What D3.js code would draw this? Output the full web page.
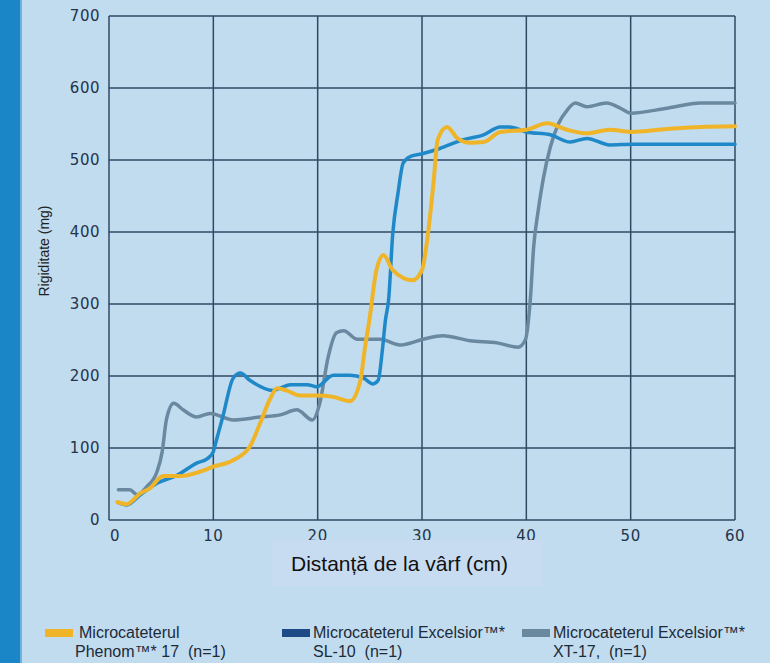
<!DOCTYPE html>
<html>
<head>
<meta charset="utf-8">
<script src="https://cdn.jsdelivr.net/npm/d3@7"></script>
<style>
  body { margin: 0; background: #c0dcee; }
  #chart { width: 770px; height: 663px; }
</style>
</head>
<body>
<div id="chart"></div>
<script>
// Phenom 17 (yellow)
let phenomX = [0.8, 1.7, 3.0, 3.9, 5.2, 6.8, 8.7, 10.0, 11.9, 13.5, 14.5, 15.4, 16.1, 17.0, 18.3, 19.9, 21.5, 23.1, 24.1, 24.5, 25.0, 25.6, 26.3, 27.2, 29.1, 30.0, 30.5, 31.1, 31.5, 32.4, 33.4, 34.6, 35.9, 37.5, 40.0, 42.0, 43.9, 45.8, 48.0, 50.0, 53.5, 56.7, 60]
let phenomY = [25, 22, 37, 44, 61, 61, 67, 74, 83, 102, 135, 167, 183, 180, 173, 173, 171, 165, 194, 236, 282, 345, 368, 347, 333, 347, 389, 468, 528, 546, 530, 524, 525, 539, 542, 551, 542, 537, 542, 539, 543, 546, 547]

// Excelsior SL-10 (blue)
let sl10X = [0.9, 1.7, 3.0, 4.6, 6.5, 8.4, 9.5, 10.0, 10.3, 10.9, 11.9, 12.6, 13.5, 15.7, 17.4, 19.0, 19.9, 21.5, 23.1, 24.4, 25.3, 25.8, 26.2, 26.5, 26.8, 27.2, 27.7, 28.2, 28.9, 30.1, 31.7, 33.9, 35.9, 37.5, 38.4, 40.0, 42.3, 44.2, 45.8, 48.0, 50.2, 56.7, 60]
let sl10Y = [24, 21, 35, 51, 62, 79, 86, 95, 111, 143, 197, 204, 194, 180, 188, 188, 185, 201, 201, 197, 189, 194, 236, 278, 306, 398, 454, 496, 505, 509, 516, 528, 535, 546, 546, 539, 535, 525, 530, 521, 522, 522, 522]

// Excelsior XT-17 (grey)
let xt17X = [0.9, 2.0, 2.7, 3.6, 4.6, 5.1, 5.5, 6.2, 7.1, 8.4, 9.7, 11.9, 14.5, 16.4, 18.0, 19.5, 20.2, 21.0, 21.8, 22.5, 23.8, 26.0, 27.9, 30.1, 32.0, 34.6, 37.2, 39.2, 39.9, 40.4, 40.7, 41.1, 41.6, 42.3, 43.1, 43.9, 44.7, 45.8, 47.7, 49.0, 50.0, 53.5, 56.7, 60]
let xt17Y = [42, 42, 35, 46, 67, 95, 139, 162, 153, 143, 148, 139, 143, 146, 153, 139, 162, 226, 260, 263, 251, 251, 243, 251, 256, 249, 246, 240, 250, 310, 379, 426, 472, 518, 551, 569, 579, 574, 579, 572, 565, 572, 579, 579]

let xTicks = [0, 10, 20, 30, 40, 50, 60]
let yTicks = [0, 100, 200, 300, 400, 500, 600, 700]

let legendLines = [
    ['Microcateterul', 'Phenom\u2122* 17  (n=1)'],
    ['Microcateterul Excelsior\u2122*', 'SL-10  (n=1)'],
    ['Microcateterul Excelsior\u2122*', 'XT-17,  (n=1)']
]

let series = [
    {x: xt17X, y: xt17Y, color: '#6a89a1', width: 3.5},
    {x: sl10X, y: sl10Y, color: '#1f88c8', width: 3.5},
    {x: phenomX, y: phenomY, color: '#f0b428', width: 4}
]

let legendColors = ['#f0b428', '#1f4a86', '#6a89a1']

let svg = d3.select('#chart').append('svg')
    .attr('width', 770)
    .attr('height', 663)

// background + left strip
svg.append('rect').attr('width', 770).attr('height', 663).attr('fill', '#c0dcee')
svg.append('rect').attr('width', 20).attr('height', 663).attr('fill', '#1a86c8')
svg.append('rect').attr('x', 20).attr('width', 2).attr('height', 663).attr('fill', '#6fb2de')

let x = d3.scaleLinear().domain([0, 60]).range([109, 735])
let y = d3.scaleLinear().domain([0, 700]).range([520, 16])

let grid = svg.append('g')

grid.selectAll('vline')
    .data(xTicks)
    .enter()
    .append('line')
    .attr('x1', d => x(d))
    .attr('x2', d => x(d))
    .attr('y1', y(0))
    .attr('y2', y(700))
    .attr('stroke', '#2f4a63')
    .attr('stroke-width', 1.5)

grid.selectAll('hline')
    .data(yTicks)
    .enter()
    .append('line')
    .attr('x1', x(0))
    .attr('x2', x(60))
    .attr('y1', d => y(d))
    .attr('y2', d => y(d))
    .attr('stroke', '#2f4a63')
    .attr('stroke-width', 1.5)

// tick labels
svg.selectAll('ylab')
    .data(yTicks)
    .enter()
    .append('text')
    .attr('x', 100)
    .attr('y', d => y(d) + 5)
    .attr('text-anchor', 'end')
    .attr('font-family', 'DejaVu Sans')
    .attr('font-size', 15)
    .attr('letter-spacing', 0.5)
    .attr('fill', '#24344a')
    .text(d => d)

svg.selectAll('xlab')
    .data(xTicks)
    .enter()
    .append('text')
    .attr('x', d => x(d) + (d == 0 ? 6 : 0))
    .attr('y', 541)
    .attr('text-anchor', 'middle')
    .attr('font-family', 'DejaVu Sans')
    .attr('font-size', 15)
    .attr('letter-spacing', 0.5)
    .attr('fill', '#24344a')
    .text(d => d)

// lines
let line = d3.line()
    .x(d => x(d[0]))
    .y(d => y(d[1]))
    .curve(d3.curveMonotoneX)

series.forEach(function(s){
    let pts = s.x.map((v, i) => [v, s.y[i]])
    svg.append('path')
        .datum(pts)
        .attr('d', line)
        .attr('fill', 'none')
        .attr('stroke', s.color)
        .attr('stroke-width', s.width)
        .attr('stroke-linejoin', 'round')
        .attr('stroke-linecap', 'round')
})

// x axis title box
svg.append('rect')
    .attr('x', 272)
    .attr('y', 540)
    .attr('width', 271)
    .attr('height', 46)
    .attr('fill', '#c8dcf1')

svg.append('text')
    .attr('x', 291)
    .attr('y', 571)
    .attr('font-family', 'Liberation Sans, Arial')
    .attr('font-size', 21)
    .attr('fill', '#111')
    .text('Distanță de la vârf (cm)')

svg.append('text')
    .attr('transform', 'translate(49,251) rotate(-90)')
    .attr('text-anchor', 'middle')
    .attr('font-family', 'Liberation Sans, Arial')
    .attr('font-size', 14)
    .attr('fill', '#222')
    .text('Rigiditate (mg)')

// legend
let legendX = [45, 282, 522]

let legend = svg.selectAll('legend_item')
    .data(legendLines)
    .enter()
    .append('g')
    .attr('transform', (d, i) => 'translate(' + legendX[i] + ',0)')

legend.append('rect')
    .attr('x', 0)
    .attr('y', 629)
    .attr('width', 28)
    .attr('height', 8)
    .attr('fill', (d, i) => legendColors[i])

legend.append('text')
    .attr('x', (d, i) => i == 0 ? 34 : 31)
    .attr('y', 638)
    .attr('font-family', 'Liberation Sans, Arial')
    .attr('font-size', 16)
    .attr('fill', '#1c2a3a')
    .style('white-space', 'pre')
    .text(d => d[0])

legend.append('text')
    .attr('x', (d, i) => i == 0 ? 30 : 31)
    .attr('y', 657)
    .attr('font-family', 'Liberation Sans, Arial')
    .attr('font-size', 16)
    .attr('fill', '#1c2a3a')
    .style('white-space', 'pre')
    .text(d => d[1])
</script>
</body>
</html>
